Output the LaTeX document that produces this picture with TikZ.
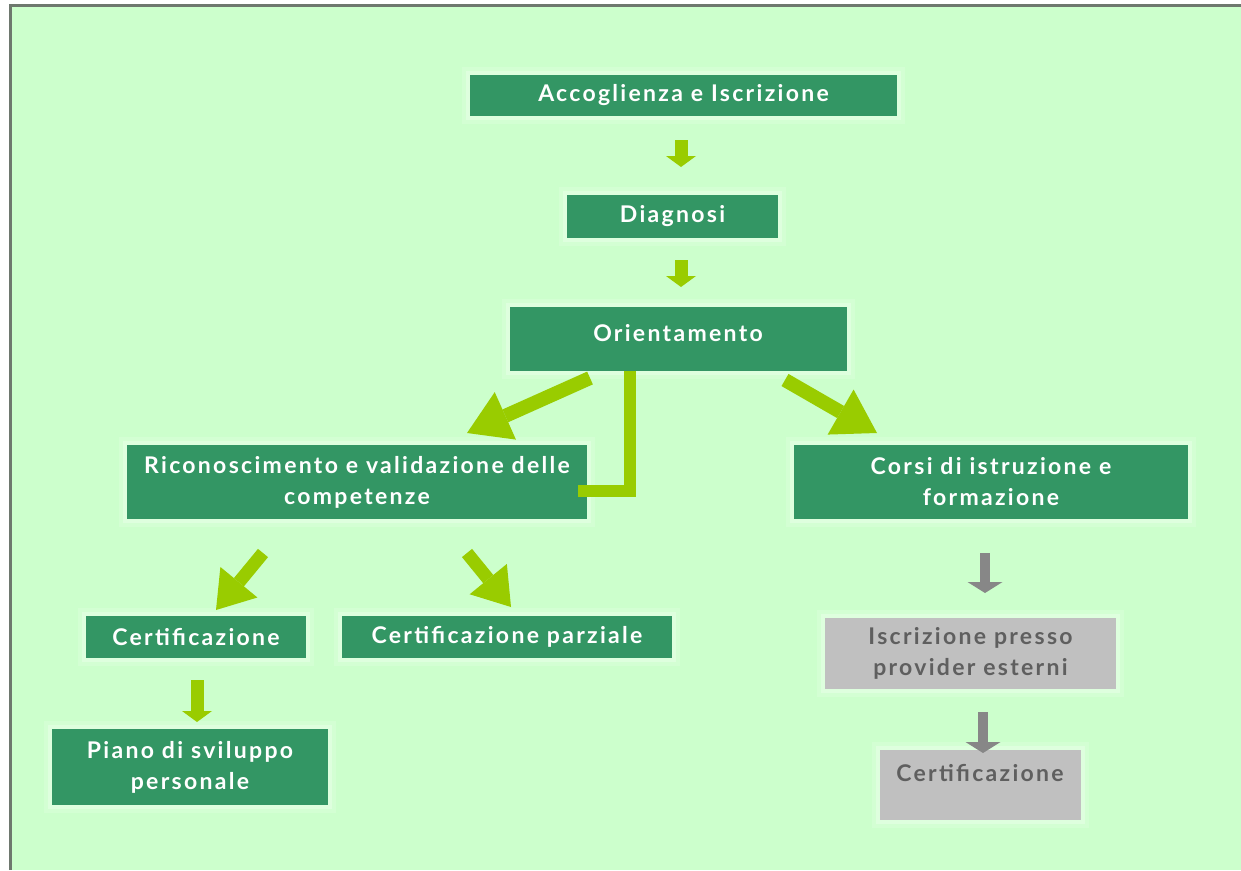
\documentclass[tikz,border=0pt]{standalone}
\usepackage{fontspec}
\setmainfont{Lato}[LetterSpace=10]
\usetikzlibrary{arrows.meta}
\definecolor{bg}{RGB}{204,255,204}
\definecolor{boxg}{RGB}{51,150,100}
\definecolor{limeg}{RGB}{153,204,0}
\definecolor{boxgray}{RGB}{192,192,192}
\definecolor{graytxt}{RGB}{95,95,95}
\definecolor{grayarrow}{RGB}{135,135,135}
\definecolor{framec}{RGB}{110,120,110}
\tikzset{
  box/.style={fill=boxg, text=white, font=\bfseries\fontsize{23}{31}\selectfont,
    align=center, inner sep=0pt,
    preaction={draw=white, draw opacity=0.15, line width=16pt},
    preaction={draw=white, draw opacity=0.25, line width=8pt}},
  graybox/.style={box, fill=boxgray, text=graytxt},
  lbl/.style={text=white, font=\bfseries\fontsize{23}{31}\selectfont, align=center, inner sep=0pt},
  smallarrow/.style={draw=limeg, line width=13pt,
    -{Triangle[length=11pt,width=30pt,line width=0pt]}},
  grayarr/.style={smallarrow, draw=grayarrow, line width=10pt,
    -{Triangle[length=11pt,width=35pt,line width=0pt]}},
  bigarrow/.style={draw=limeg, line width=14pt,
    -{Triangle[length=42pt,width=52pt,line width=0pt]}},
  midarrow/.style={draw=limeg, line width=13pt,
    -{Triangle[length=36pt,width=48pt,line width=0pt]}},
  elbow/.style={draw=limeg, line width=12pt, line cap=butt, line join=miter}
}
\begin{document}
\begin{tikzpicture}[x=1pt,y=-1pt]
\useasboundingbox (0,0) rectangle (1241,870);
\fill[white] (0,0) rectangle (1241,870);
\fill[bg] (10,5) rectangle (1241,870);
\draw[line width=3pt, framec] (10,870) -- (10,5) -- (1241,5);

% boxes
\node[box, minimum width=427, minimum height=41] (acc) at (683.5,95.5) {Accoglienza e Iscrizione};
\node[box, minimum width=211, minimum height=43] (dia) at (672.5,216.5) {Diagnosi};
\node[box, minimum width=337, minimum height=64] (ori) at (678.5,339) {};
\node[lbl] (oril) at (678,333) {Orientamento};
\node[box, minimum width=460, minimum height=74] (ric) at (357,482) {Riconoscimento e validazione delle\\competenze};
\node[box, minimum width=394, minimum height=74] (cor) at (991,482) {Corsi di istruzione e\\formazione};
\node[box, minimum width=220, minimum height=42] (cert1) at (196,637) {Certificazione};
\node[box, minimum width=330, minimum height=42] (certp) at (507,637) {Certificazione parziale};
\node[box, minimum width=276, minimum height=76] (piano) at (190,767) {Piano di sviluppo\\personale};
\node[graybox, minimum width=291, minimum height=71] (iscr) at (970.5,653) {Iscrizione presso\\provider esterni};
\node[graybox, minimum width=201, minimum height=70] (cert2) at (980.5,785) {};
\node[lbl, text=graytxt] (cert2l) at (980,773) {Certificazione};

% arrow end points
\coordinate (a1s) at (681,140); \coordinate (a1e) at (681,167);
\coordinate (a2s) at (681,260); \coordinate (a2e) at (681,287);
\coordinate (b1s) at (590,378); \coordinate (b1e) at (467,433);
\coordinate (b2s) at (785,380); \coordinate (b2e) at (877,433);
\coordinate (els) at (630,371); \coordinate (ele) at (578,491);
\coordinate (c1s) at (263,553); \coordinate (c1e) at (216,610);
\coordinate (c2s) at (467,553); \coordinate (c2e) at (511,607);
\coordinate (d1s) at (197,680); \coordinate (d1e) at (197,722);
\coordinate (g1s) at (985,553); \coordinate (g1e) at (985,593);
\coordinate (g2s) at (983,712); \coordinate (g2e) at (983,753);

% connectors
\draw[smallarrow] (a1s) -- (a1e);
\draw[smallarrow] (a2s) -- (a2e);
\draw[bigarrow] (b1s) -- (b1e);
\draw[bigarrow] (b2s) -- (b2e);
\draw[elbow] (els) |- (ele);
\draw[midarrow] (c1s) -- (c1e);
\draw[midarrow] (c2s) -- (c2e);
\draw[smallarrow] (d1s) -- (d1e);
\draw[grayarr] (g1s) -- (g1e);
\draw[grayarr] (g2s) -- (g2e);
\end{tikzpicture}
\end{document}
